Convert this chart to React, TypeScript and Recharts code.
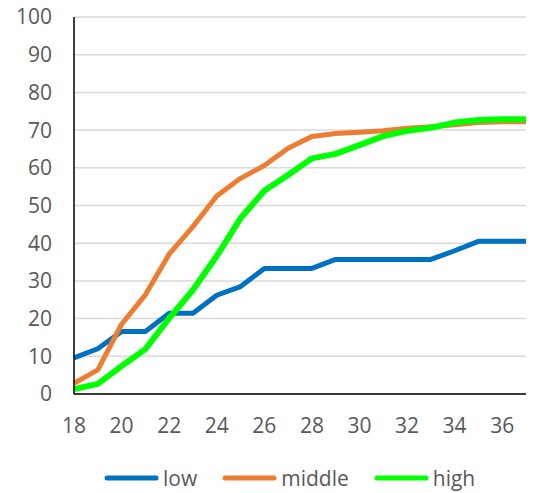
import React from 'react';
import { LineChart, Line, XAxis, YAxis, CartesianGrid } from 'recharts';

const ages = [18, 19, 20, 21, 22, 23, 24, 25, 26, 27, 28, 29, 30, 31, 32, 33, 34, 35, 36, 37];
const low = [9.6, 12, 16.6, 16.6, 21.4, 21.4, 26.2, 28.5, 33.3, 33.3, 33.3, 35.7, 35.7, 35.7, 35.7, 35.7, 38, 40.5, 40.5, 40.5];
const middle = [2.8, 6.4, 18.5, 26.3, 37.1, 44.4, 52.5, 57.2, 60.6, 65.2, 68.3, 69.1, 69.4, 69.8, 70.5, 70.9, 71.4, 72, 72.2, 72.2];
const high = [1.3, 2.7, 7.4, 11.9, 20.1, 27.6, 36.6, 46.6, 53.9, 58.1, 62.5, 63.7, 66, 68.4, 69.8, 70.6, 72, 72.7, 72.9, 72.9];

const xTicks = [18, 20, 22, 24, 26, 28, 30, 32, 34, 36];
const yTicks = [0, 10, 20, 30, 40, 50, 60, 70, 80, 90, 100];

const series = [
  { key: 'low', color: '#0070C0', width: 5 },
  { key: 'middle', color: '#ED7D31', width: 5 },
  { key: 'high', color: '#00FF00', width: 6 },
];

const data = ages.map((x, i) => ({ x, low: low[i], middle: middle[i], high: high[i] }));

const font = '"Open Sans", sans-serif';
const tickStyle = { fontSize: 21, fill: '#595959', fontFamily: font };

export default function App() {
  return (
    <div style={{ position: 'absolute', left: 0, top: 0, width: 535, height: 493, background: '#fff' }}>
      <LineChart width={535} height={493} data={data} margin={{ top: 17, right: 9, left: 14, bottom: 59 }}>
        <CartesianGrid vertical={false} stroke="#D9D9D9" strokeWidth={1.5} />
        <XAxis
          dataKey="x"
          type="number"
          domain={[18, 37]}
          ticks={xTicks}
          height={40}
          axisLine={{ stroke: '#000', strokeWidth: 1.5 }}
          tickLine={false}
          tickSize={0}
          tickMargin={24}
          tick={tickStyle}
        />
        <YAxis
          domain={[0, 100]}
          ticks={yTicks}
          width={60}
          axisLine={{ stroke: '#000', strokeWidth: 1.5 }}
          tickLine={false}
          tickSize={0}
          tickMargin={22}
          tick={tickStyle}
        />
        {series.map((s) => (
          <Line
            key={s.key}
            type="linear"
            dataKey={s.key}
            stroke={s.color}
            strokeWidth={s.width}
            strokeLinejoin="round"
            dot={false}
            isAnimationActive={false}
          />
        ))}
      </LineChart>
      {/* legend row under the plot */}
      <div style={{ position: 'absolute', top: 465, left: 104, display: 'flex', fontFamily: font, fontSize: 21, color: '#595959', lineHeight: '26px' }}>
        {series.map((s) => (
          <div key={s.key} style={{ display: 'flex', alignItems: 'center', marginRight: 25 }}>
            <svg width={55} height={10} style={{ marginRight: 4 }}>
              <line x1={3} y1={5} x2={52} y2={5} stroke={s.color} strokeWidth={5} strokeLinecap="round" />
            </svg>
            <span>{s.key}</span>
          </div>
        ))}
      </div>
    </div>
  );
}
